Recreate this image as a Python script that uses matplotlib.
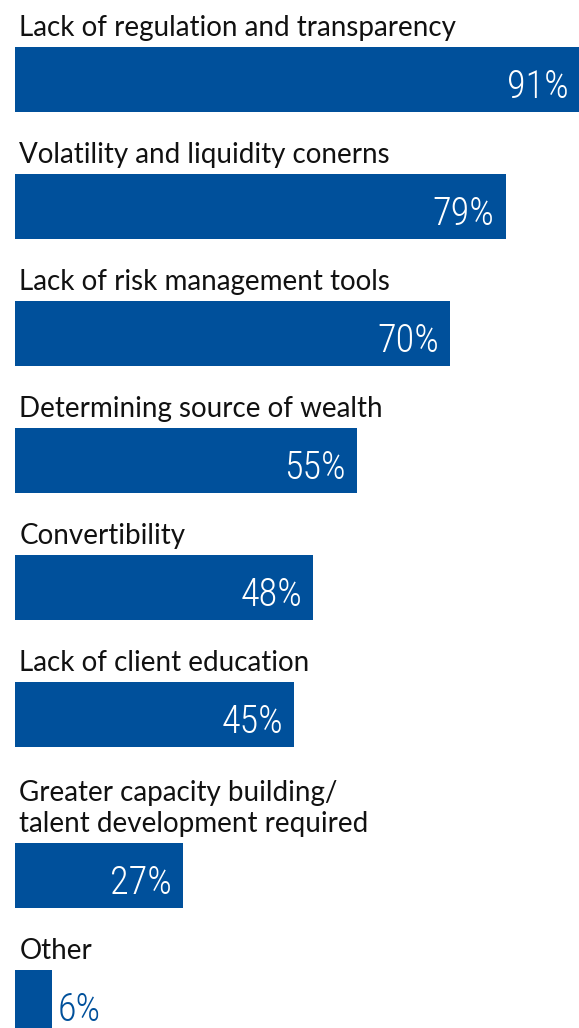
import matplotlib.pyplot as plt
from matplotlib import font_manager

# Survey answers (label above each bar, share of respondents in %)
categories = [
    "Lack of regulation and transparency",
    "Volatility and liquidity conerns",
    "Lack of risk management tools",
    "Determining source of wealth",
    "Convertibility",
    "Lack of client education",
    "Greater capacity building/\ntalent development required",
    "Other",
]
values = [91, 79, 70, 55, 48, 45, 27, 6]

BLUE = "#00509B"
W, H = 579, 1028

installed = {f.name for f in font_manager.fontManager.ttflist}
def pick(*names):
    for n in names:
        if n in installed:
            return n
    return "DejaVu Sans"

label_font = pick("Lato", "Open Sans", "Noto Sans")
num_font = pick("Roboto Condensed", "Liberation Sans Narrow", "Roboto")

fig = plt.figure(figsize=(W / 100, H / 100), dpi=100)
ax = fig.add_axes([0, 0, 1, 1])

px_per_pct = 6.21
left_px = 15
ax.set_xlim(-left_px / px_per_pct, (W - left_px) / px_per_pct)
ax.set_ylim(H, 0)
ax.axis("off")

bar_h = 65
pitch = 127
line_h = 34
top = 47
extra = 0
for i, (cat, v) in enumerate(zip(categories, values)):
    n_lines = cat.count("\n") + 1
    extra += (n_lines - 1) * line_h
    y0 = top + i * pitch + extra
    ax.barh(y0 + bar_h / 2, v, height=bar_h, left=0, color=BLUE)
    ax.text(0.7, y0 - 11, cat, ha="left", va="baseline", fontsize=20,
            family=label_font, color="#111111", linespacing=1.22)
    lab = f"{v}%"
    if v > 10:
        ax.text(v - 11 / px_per_pct, y0 + bar_h - 14, lab, ha="right",
                va="baseline", fontsize=27.5, family=num_font, color="white",
                fontweight="light")
    else:
        ax.text(v + 5 / px_per_pct, y0 + bar_h - 14, lab, ha="left",
                va="baseline", fontsize=27.5, family=num_font, color=BLUE,
                fontweight="light")

fig.savefig("out.png", dpi=100)
